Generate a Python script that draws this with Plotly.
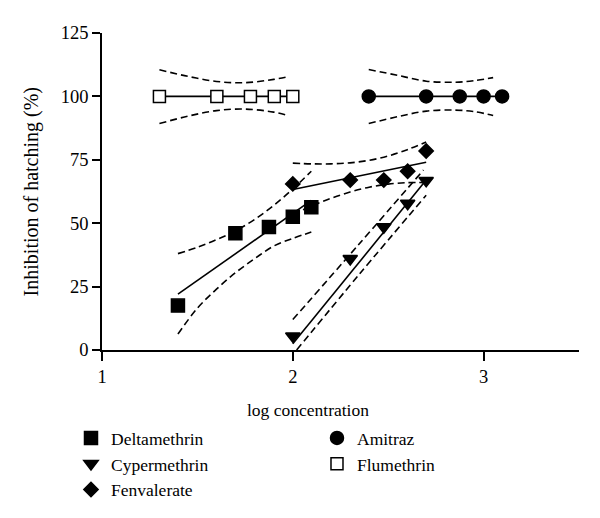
import plotly.graph_objects as go

FONT = "Liberation Serif, Times New Roman, Times, serif"

# ---- data (log concentration vs inhibition of hatching %) ----
delta_x = [1.398, 1.699, 1.875, 2.0, 2.097]
delta_y = [17.5, 46.0, 48.5, 52.5, 56.3]
delta_fit_x = [1.398, 2.097]
delta_fit_y = [22.0, 59.0]
delta_band_x = [1.398, 1.5, 1.6, 1.7, 1.8, 1.9, 2.0, 2.097]
delta_upper = [38.0, 40.5, 43.5, 47.0, 51.5, 57.0, 63.5, 70.5]
delta_lower = [6.3, 16.5, 24.0, 30.5, 36.0, 41.0, 44.0, 46.5]

cyper_x = [2.0, 2.301, 2.477, 2.602, 2.699]
cyper_y = [5.5, 36.0, 48.5, 57.8, 66.8]
cyper_fit_x = [2.0, 2.699]
cyper_fit_y = [2.5, 67.0]
cyper_upper_x = [2.0, 2.35, 2.685]
cyper_upper = [12.0, 42.0, 71.0]
cyper_lower_x = [2.02, 2.35, 2.699]
cyper_lower = [0.0, 30.0, 61.0]

fenval_x = [2.0, 2.301, 2.477, 2.602, 2.699]
fenval_y = [65.5, 67.0, 67.0, 70.5, 78.5]
fenval_fit_x = [2.0, 2.699]
fenval_fit_y = [63.3, 74.0]
fenval_band_x = [2.0, 2.1, 2.2, 2.3, 2.4, 2.5, 2.6, 2.699]
fenval_upper = [73.7, 73.4, 73.4, 73.8, 74.8, 76.5, 79.0, 82.0]
fenval_lower = [53.5, 56.8, 59.8, 62.3, 64.2, 65.4, 66.0, 66.0]

amitraz_x = [2.398, 2.699, 2.875, 3.0, 3.097]
amitraz_y = [100, 100, 100, 100, 100]
amitraz_band_x = [2.398, 2.55, 2.7, 2.85, 2.95, 3.05]
amitraz_upper = [110.6, 108.3, 106.0, 105.6, 106.2, 107.4]
amitraz_lower = [89.3, 92.0, 94.2, 94.6, 94.0, 92.5]

flume_x = [1.301, 1.602, 1.778, 1.903, 2.0]
flume_y = [100, 100, 100, 100, 100]
flume_band_x = [1.301, 1.45, 1.6, 1.75, 1.9, 1.98]
flume_upper = [110.5, 107.9, 105.9, 105.4, 106.7, 107.8]
flume_lower = [89.3, 92.2, 94.4, 95.0, 93.8, 92.3]

x_ticks = [1, 2, 3]
y_ticks = [0, 25, 50, 75, 100, 125]

fig = go.Figure()

DASH = "7px,4px"


def add_line(x, y, dash=None, spline=False):
    fig.add_trace(go.Scatter(
        x=x, y=y, mode="lines", showlegend=False, hoverinfo="skip",
        line=dict(color="black", width=1.6, dash=dash,
                  shape="spline" if spline else "linear")))


# bands and fit lines
for bx, up, lo in [(delta_band_x, delta_upper, delta_lower),
                   (fenval_band_x, fenval_upper, fenval_lower),
                   (amitraz_band_x, amitraz_upper, amitraz_lower),
                   (flume_band_x, flume_upper, flume_lower)]:
    add_line(bx, up, DASH, True)
    add_line(bx, lo, DASH, True)
add_line(cyper_upper_x, cyper_upper, DASH, True)
add_line(cyper_lower_x, cyper_lower, DASH, True)

add_line(delta_fit_x, delta_fit_y)
add_line(cyper_fit_x, cyper_fit_y)
add_line(fenval_fit_x, fenval_fit_y)
add_line(amitraz_x, amitraz_y)
add_line(flume_x, flume_y)

# points (legend entries)
series = [
    ("Deltamethrin", delta_x, delta_y, "square", 13, "black", 1),
    ("Amitraz", amitraz_x, amitraz_y, "circle", 13, "black", 2),
    ("Cypermethrin", cyper_x, cyper_y, "triangle-down", 12.5, "black", 3),
    ("Flumethrin", flume_x, flume_y, "square", 12, "white", 4),
    ("Fenvalerate", fenval_x, fenval_y, "diamond", 11, "black", 5),
]
for name, x, y, sym, size, fill, rank in series:
    fig.add_trace(go.Scatter(
        x=x, y=y, mode="markers", name=name, legendrank=rank,
        cliponaxis=False,
        marker=dict(symbol=sym, size=size, color=fill,
                    line=dict(color="black", width=1.5))))

axis_common = dict(showline=True, linecolor="black", linewidth=1.6,
                   ticks="outside", tickwidth=1.6, tickcolor="black",
                   showgrid=False, zeroline=False,
                   tickfont=dict(family=FONT, size=18.5, color="black"))

fig.update_layout(
    width=600, height=518,
    paper_bgcolor="white", plot_bgcolor="white",
    font=dict(family=FONT, size=17, color="black"),
    margin=dict(l=94, r=29, t=25, b=176.4, autoexpand=False),
    xaxis=dict(range=[1, 3.5], tickvals=x_ticks, ticklen=9, **axis_common),
    yaxis=dict(range=[0, 125], tickvals=y_ticks, ticklen=8,
               ticksuffix="\u00a0", **axis_common),
    legend=dict(orientation="h", x=-0.065, y=-0.221, xanchor="left",
                yanchor="top", entrywidth=201, entrywidthmode="pixels",
                font=dict(family=FONT, size=17.5, color="black"),
                bgcolor="rgba(0,0,0,0)", itemsizing="trace"),
    annotations=[
        dict(text="log concentration", x=0.432, y=-0.1886, xref="paper",
             yref="paper", showarrow=False, xanchor="center",
             yanchor="middle", font=dict(family=FONT, size=17.5, color="black")),
        dict(text="Inhibition of hatching (%)", x=-0.147, y=0.5,
             xref="paper", yref="paper", showarrow=False, textangle=-90,
             xanchor="center", yanchor="middle",
             font=dict(family=FONT, size=20, color="black")),
    ],
)

fig.write_html("out.html")
